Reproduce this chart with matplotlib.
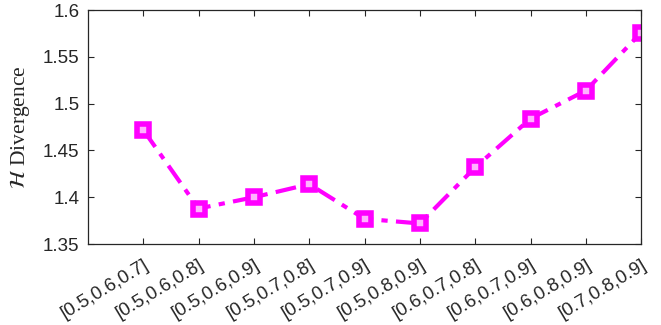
import matplotlib
matplotlib.use("Agg")
import matplotlib.pyplot as plt

# combos along the x axis
combos = ['[0.5,0.6,0.7]', '[0.5,0.6,0.8]', '[0.5,0.6,0.9]', '[0.5,0.7,0.8]',
          '[0.5,0.7,0.9]', '[0.5,0.8,0.9]', '[0.6,0.7,0.8]', '[0.6,0.7,0.9]',
          '[0.6,0.8,0.9]', '[0.7,0.8,0.9]']
h_div = [1.472, 1.388, 1.400, 1.414, 1.377, 1.372, 1.432, 1.484, 1.514, 1.576]
y_ticks = [1.35, 1.4, 1.45, 1.5, 1.55, 1.6]
y_labels = ['1.35', '1.4', '1.45', '1.5', '1.55', '1.6']

plt.rcParams['font.family'] = ['Liberation Sans', 'DejaVu Sans']
plt.rcParams['mathtext.fontset'] = 'stix'

grey = '#262626'
fig = plt.figure(figsize=(6.61, 3.25), dpi=100)
ax = fig.add_axes([0.133, 0.249, 0.837, 0.720])

x = list(range(1, len(combos) + 1))
ax.plot(x, h_div, color='#ff00ff', linestyle='-.', linewidth=3,
        marker='s', markersize=8, markeredgewidth=4, markerfacecolor='#ffb3ff',
        dashes=(5, 2, 1.5, 2))

ax.set_xlim(0, 10)
ax.set_ylim(1.35, 1.6)
ax.set_xticks(x)
ax.set_xticklabels(combos, rotation=31, ha='right', rotation_mode='anchor')
ax.set_yticks(y_ticks)
ax.set_yticklabels(y_labels)
ax.tick_params(direction='in', top=True, right=True, colors=grey,
               labelsize=13.5, length=4, width=0.8)
ax.tick_params(axis='x', pad=9)
ax.tick_params(axis='y', pad=6)
for s in ax.spines.values():
    s.set_color(grey)
    s.set_linewidth(0.9)

ax.set_ylabel(r'$\mathcal{H}$ Divergence', family=['Liberation Serif'],
              fontsize=15.5, color=grey, labelpad=8)

fig.savefig('out.png', dpi=100)
